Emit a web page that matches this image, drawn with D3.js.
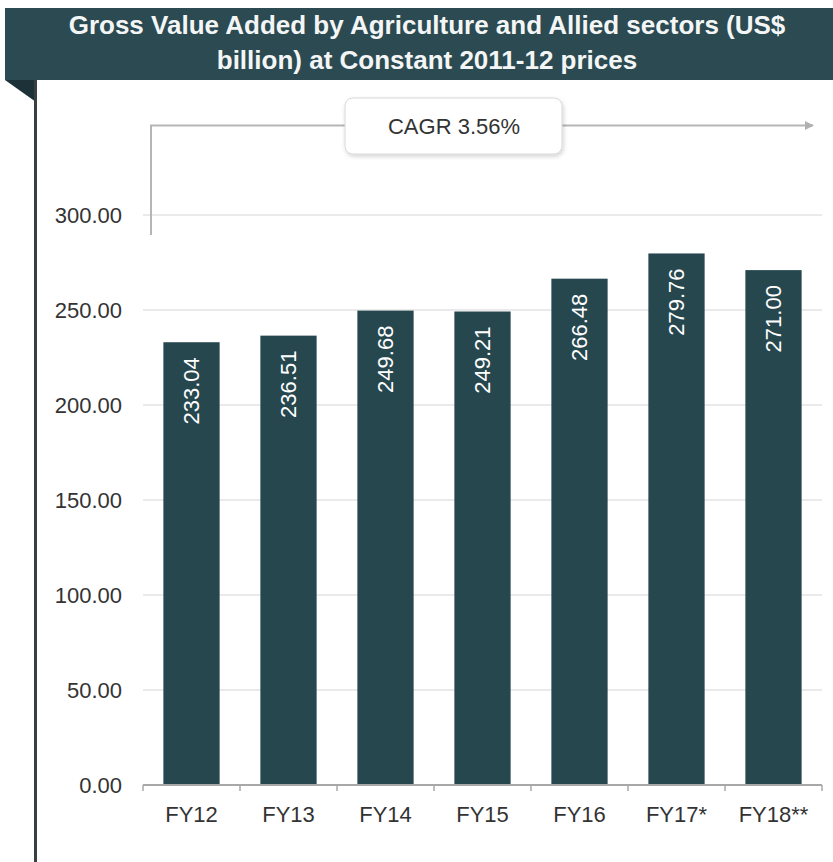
<!DOCTYPE html>
<html>
<head>
<meta charset="utf-8">
<script src="https://cdn.jsdelivr.net/npm/d3@7"></script>
<style>
  body { margin: 0; background: #fff; }
  svg { display: block; }
</style>
</head>
<body>
<svg width="833" height="862"></svg>
<script>
// data
var years = ["FY12", "FY13", "FY14", "FY15", "FY16", "FY17*", "FY18**"];
var gva = [233.04, 236.51, 249.68, 249.21, 266.48, 279.76, 271.00];
var yTicks = [0, 50, 100, 150, 200, 250, 300];
var titleLines = ["Gross Value Added by Agriculture and Allied sectors (US$", "billion) at Constant 2011-12 prices"];
var cagrText = "CAGR 3.56%";

var svg = d3.select("svg"),
    width = +svg.attr("width"),
    height = +svg.attr("height");

var dark = "#27474f";
var font = "'Liberation Sans', Arial, sans-serif";

var x = d3.scaleBand()
    .domain(years)
    .range([143, 822])
    .paddingInner(0.42)
    .paddingOuter(0.21);

var y = d3.scaleLinear()
    .domain([0, 300])
    .range([785, 215]);

// header bar
svg.append("rect")
    .attr("x", 5).attr("y", 8)
    .attr("width", width - 5).attr("height", 72)
    .attr("fill", "#2b4a52");

svg.append("path")
    .attr("d", "M5,80 L36,80 L36,102 Z")
    .attr("fill", "#1d3238");

svg.append("line")
    .attr("x1", 35.5).attr("x2", 35.5)
    .attr("y1", 80).attr("y2", height)
    .attr("stroke", "#3a3f42")
    .attr("stroke-width", 3);

svg.selectAll(".title")
    .data(titleLines)
    .enter().append("text")
    .attr("class", "title")
    .attr("x", 427)
    .attr("y", function (d, i) { return 34 + i * 35; })
    .attr("text-anchor", "middle")
    .attr("fill", "#f4f6f6")
    .attr("font-family", font)
    .attr("font-weight", "bold")
    .attr("font-size", 26)
    .text(function (d) { return d; });

// gridlines
svg.append("g")
    .selectAll("line")
    .data(yTicks.filter(function (d) { return d > 0; }))
    .enter().append("line")
    .attr("x1", 143).attr("x2", 822)
    .attr("y1", function (d) { return y(d); })
    .attr("y2", function (d) { return y(d); })
    .attr("stroke", "#e3e3e3")
    .attr("stroke-width", 1.5);

// y axis labels
var yAxis = svg.append("g")
    .attr("transform", "translate(122,0)")
    .call(d3.axisLeft(y).tickValues(yTicks).tickSize(0).tickPadding(0).tickFormat(d3.format(".2f")));
yAxis.select(".domain").remove();
yAxis.selectAll("text")
    .attr("font-family", font)
    .attr("font-size", 22)
    .attr("fill", "#333");

// CAGR bracket
var defs = svg.append("defs");
defs.append("marker")
    .attr("id", "arrow")
    .attr("viewBox", "0 0 10 10")
    .attr("refX", 9).attr("refY", 5)
    .attr("markerWidth", 9).attr("markerHeight", 9)
    .attr("markerUnits", "userSpaceOnUse")
    .attr("orient", "auto")
    .append("path")
    .attr("d", "M0,0 L10,5 L0,10 Z")
    .attr("fill", "#b0b0b0");

var filter = defs.append("filter").attr("id", "shadow")
    .attr("x", "-10%").attr("y", "-20%").attr("width", "130%").attr("height", "150%");
filter.append("feDropShadow")
    .attr("dx", 1).attr("dy", 2).attr("stdDeviation", 2)
    .attr("flood-color", "#000").attr("flood-opacity", 0.18);

svg.append("path")
    .attr("d", "M151,235 L151,125.5 L813,125.5")
    .attr("fill", "none")
    .attr("stroke", "#b5b5b5")
    .attr("stroke-width", 2)
    .attr("marker-end", "url(#arrow)");

svg.append("rect")
    .attr("x", 345).attr("y", 98)
    .attr("width", 217).attr("height", 56)
    .attr("rx", 8)
    .attr("fill", "#fff")
    .attr("stroke", "#d8d8d8")
    .attr("filter", "url(#shadow)");

svg.append("text")
    .attr("x", 454).attr("y", 134)
    .attr("text-anchor", "middle")
    .attr("font-family", font)
    .attr("font-size", 22)
    .attr("fill", "#333")
    .text(cagrText);

// bars
var bars = svg.append("g")
    .selectAll("g")
    .data(gva)
    .enter().append("g");

bars.append("rect")
    .attr("x", function (d, i) { return x(years[i]); })
    .attr("y", function (d) { return y(d); })
    .attr("width", x.bandwidth())
    .attr("height", function (d) { return y(0) - y(d); })
    .attr("fill", dark);

bars.append("text")
    .attr("transform", function (d, i) {
        return "translate(" + (x(years[i]) + x.bandwidth() / 2) + "," + (y(d) + 15) + ") rotate(-90)";
    })
    .attr("text-anchor", "end")
    .attr("dy", "0.35em")
    .attr("font-family", font)
    .attr("font-size", 22)
    .attr("fill", "#fff")
    .text(function (d) { return d3.format(".2f")(d); });

// x axis
var xAxis = svg.append("g")
    .attr("transform", "translate(0," + y(0) + ")");
xAxis.append("line")
    .attr("x1", 143).attr("x2", 822)
    .attr("stroke", "#a8a8a8")
    .attr("stroke-width", 2);
xAxis.selectAll(".tick")
    .data(d3.range(years.length + 1))
    .enter().append("line")
    .attr("x1", function (i) { return 143 + i * x.step(); })
    .attr("x2", function (i) { return 143 + i * x.step(); })
    .attr("y1", 0).attr("y2", 6)
    .attr("stroke", "#a8a8a8")
    .attr("stroke-width", 1.5);
xAxis.selectAll(".lbl")
    .data(years)
    .enter().append("text")
    .attr("x", function (d) { return x(d) + x.bandwidth() / 2; })
    .attr("y", 37)
    .attr("text-anchor", "middle")
    .attr("font-family", font)
    .attr("font-size", 22)
    .attr("fill", "#333")
    .text(function (d) { return d; });
</script>
</body>
</html>
